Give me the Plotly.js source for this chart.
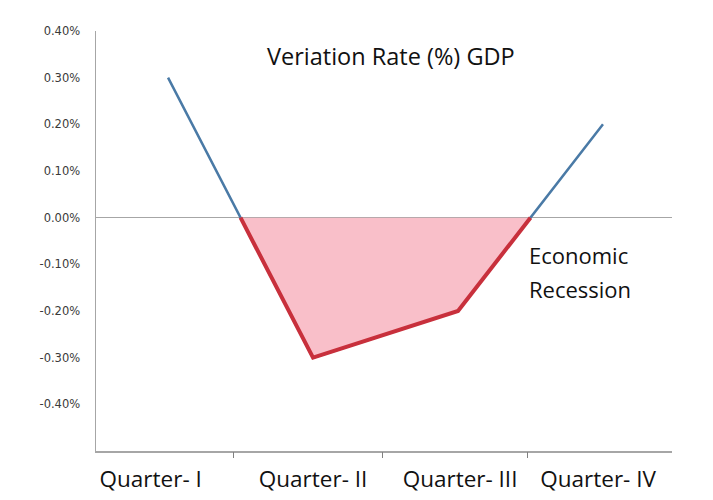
<!DOCTYPE html>
<html>
<head>
<meta charset="utf-8">
<script src="https://cdn.plot.ly/plotly-3.0.1.min.js"></script>
<style>html,body{margin:0;padding:0;background:#fff;}#chart{width:713px;height:500px;}</style>
</head>
<body>
<div id="chart"></div>
<script>
// ---- data ----
const quarters = ["Quarter- I", "Quarter- II", "Quarter- III", "Quarter- IV"];
const quarterIndex = [1, 2, 3, 4];
const gdpRate = [0.30, -0.30, -0.20, 0.20];   // variation rate, %
const yTickVals = [-0.4, -0.3, -0.2, -0.1, 0, 0.1, 0.2, 0.3, 0.4];
const yTickText = yTickVals.map(v => v.toFixed(2) + '%');

// build the recession (negative) segment, with zero crossings interpolated
const recX = [], recY = [];
for (let i = 0; i < gdpRate.length; i++) {
  if (i > 0) {
    const a = gdpRate[i-1], b = gdpRate[i];
    if ((a > 0 && b < 0) || (a < 0 && b > 0)) {
      const t = a / (a - b);
      recX.push(quarterIndex[i-1] + t * (quarterIndex[i] - quarterIndex[i-1]));
      recY.push(0);
    }
  }
  if (gdpRate[i] < 0) { recX.push(quarterIndex[i]); recY.push(gdpRate[i]); }
}

const fontFam = '"Open Sans", "Noto Sans", sans-serif';
const xRange = [0.503, 4.476];

const traces = [
  { x: quarterIndex, y: gdpRate, type: 'scatter', mode: 'lines',
    line: { color: '#4a7aa6', width: 2.5 }, hoverinfo: 'skip', showlegend: false },
  { x: recX, y: recY, type: 'scatter', mode: 'lines', fill: 'toself',
    fillcolor: 'rgba(248,180,192,0.85)',
    line: { color: '#c8303c', width: 4, shape: 'linear' }, hoverinfo: 'skip', showlegend: false },
  // invisible trace on overlay axis to carry tick marks
  { x: [xRange[0]], y: [0], xaxis: 'x2', type: 'scatter', mode: 'markers',
    marker: { opacity: 0 }, hoverinfo: 'skip', showlegend: false }
];

const layout = {
  width: 713, height: 500,
  margin: { l: 96, r: 41, t: 31, b: 49 },
  paper_bgcolor: '#ffffff', plot_bgcolor: '#ffffff',
  showlegend: false,
  xaxis: {
    range: xRange, showgrid: false, zeroline: false,
    showline: true, linecolor: '#a6a6a6', linewidth: 1.5,
    tickmode: 'array', tickvals: [0.88, 2.0, 3.014, 3.966], ticktext: quarters,
    ticks: '', ticklabelstandoff: 7,
    tickfont: { family: fontFam, size: 22.5, color: '#111' }
  },
  xaxis2: {
    overlaying: 'x', range: xRange, showgrid: false, zeroline: false,
    showline: false, tickmode: 'array', tickvals: [1.45, 2.48, 3.48], ticktext: ['', '', ''],
    ticks: 'outside', ticklen: 6, tickwidth: 1.5, tickcolor: '#808080', side: 'bottom'
  },
  yaxis: {
    range: [-0.5, 0.4], showgrid: false,
    zeroline: true, zerolinecolor: '#a6a6a6', zerolinewidth: 1.5,
    showline: true, linecolor: '#a6a6a6', linewidth: 1.5,
    tickmode: 'array', tickvals: yTickVals, ticktext: yTickText,
    ticks: '', ticklabelstandoff: 12,
    tickfont: { family: '"DejaVu Sans", sans-serif', size: 11.5, color: '#3a3a3a' }
  },
  annotations: [
    { text: 'Veriation Rate (%) GDP', xref: 'paper', yref: 'paper',
      x: 0.512, y: 0.94, xanchor: 'center', yanchor: 'middle', showarrow: false,
      font: { family: fontFam, size: 23.5, color: '#111' } },
    { text: 'Economic', xref: 'paper', yref: 'paper',
      x: 0.748, y: 0.467, xanchor: 'left', yanchor: 'middle', align: 'left', showarrow: false,
      font: { family: fontFam, size: 22, color: '#111' } },
    { text: 'Recession', xref: 'paper', yref: 'paper',
      x: 0.748, y: 0.386, xanchor: 'left', yanchor: 'middle', align: 'left', showarrow: false,
      font: { family: fontFam, size: 22, color: '#111' } }
  ]
};

Plotly.newPlot('chart', traces, layout, { staticPlot: true, displayModeBar: false });
</script>
</body>
</html>
